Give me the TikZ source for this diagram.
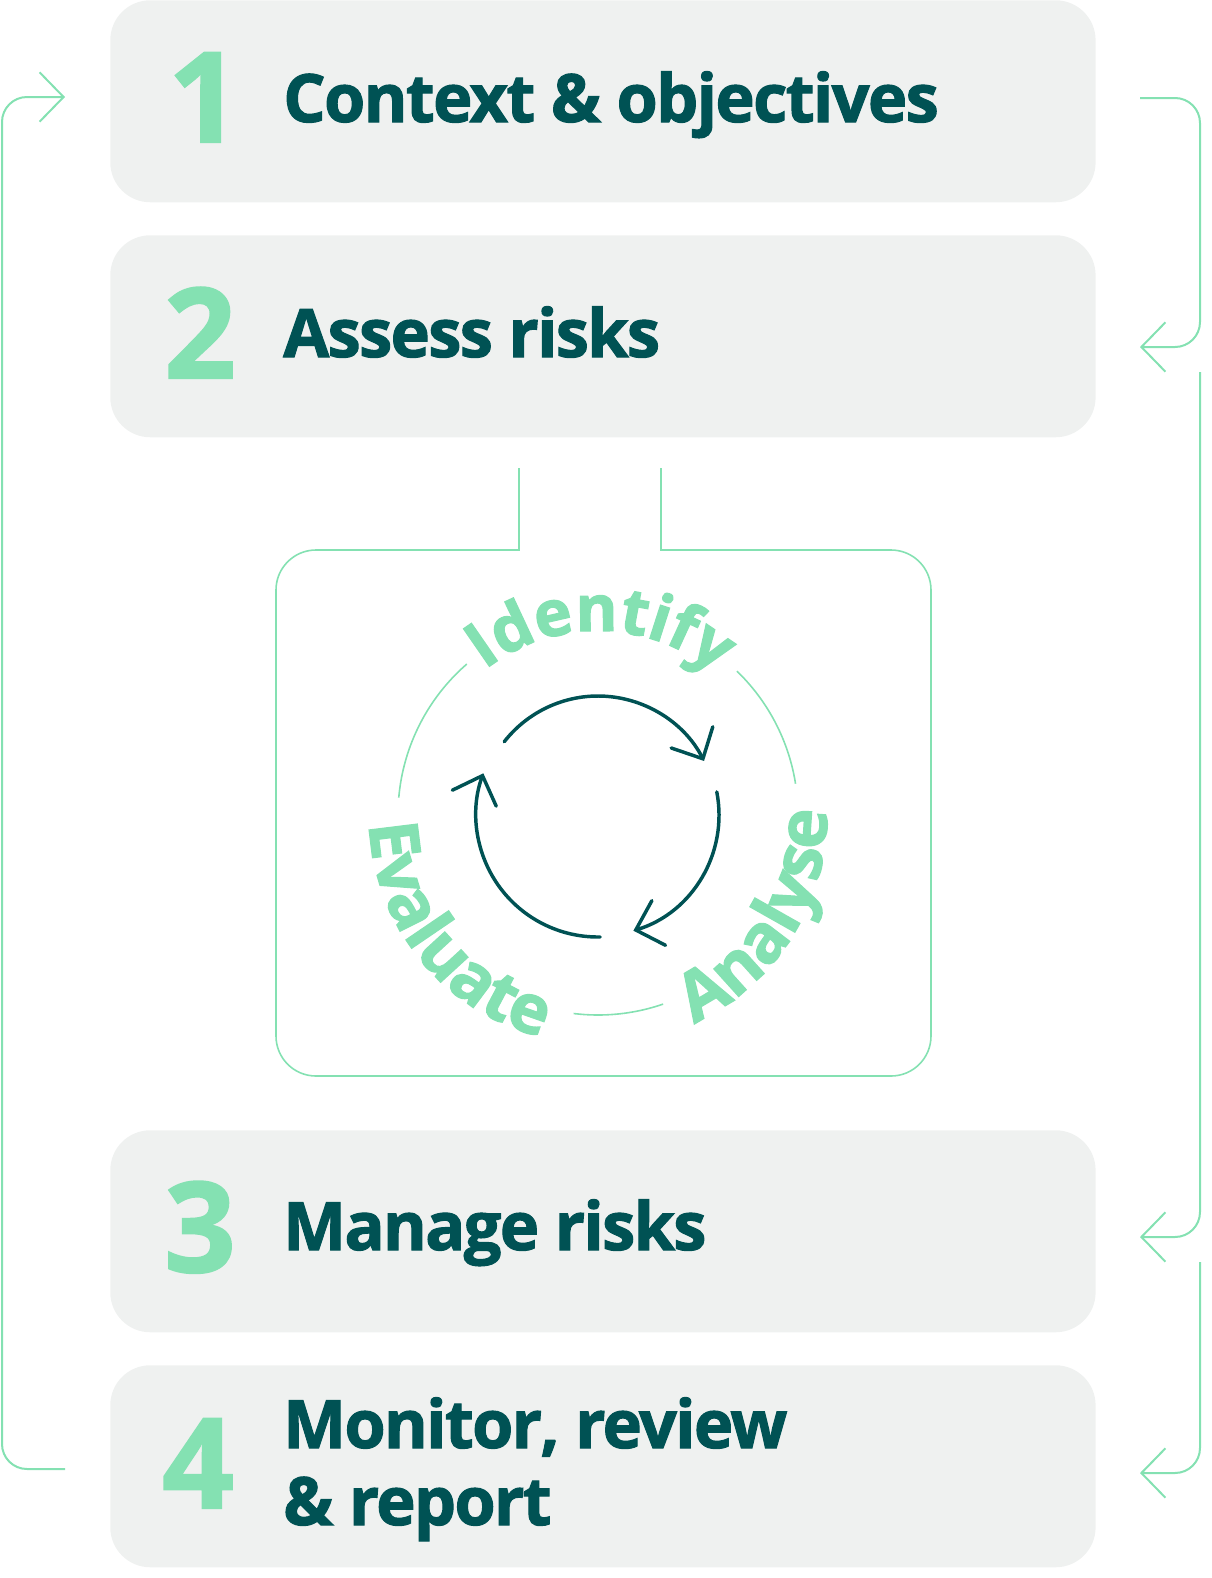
\documentclass[tikz,border=0pt]{standalone}
\usepackage{fontspec}
\setmainfont{Open Sans}[BoldFeatures={FakeBold=1.6, LetterSpace=-2.5}]
\newfontfamily\ringfont{Open Sans}[UprightFont=*, BoldFeatures={FakeBold=1.8}]
\usetikzlibrary{arrows.meta,decorations.text}
\definecolor{mint}{HTML}{84E1B2}
\definecolor{darkteal}{HTML}{005254}
\definecolor{boxgray}{HTML}{EFF1F0}
\newcommand\circfont{\ringfont\fontsize{48}{48}\selectfont\bfseries}
\newcommand\circfontb{\ringfont\fontsize{51}{51}\selectfont\bfseries}
\begin{document}
\begin{tikzpicture}[x=0.75pt,y=0.75pt,
  stepbox/.style={fill=boxgray, draw=none, rounded corners=30pt, anchor=north west,
     minimum width=739pt, minimum height=151.5pt, inner sep=0pt},
  numtext/.style={anchor=base west, inner sep=0pt, text=mint, font=\fontsize{94}{94}\selectfont\bfseries},
  titletext/.style={anchor=base west, inner sep=0pt, text=darkteal, font=\fontsize{50}{50}\selectfont\bfseries},
  conn/.style={draw=mint, line width=1.5pt, rounded corners=18.75pt},
  chev/.style={-{Straight Barb[length=18pt,width=37pt]}},
  frame/.style={draw=mint, line width=1.2pt},
  ring/.style={draw=mint, line width=1.2pt},
  cycarrow/.style={draw=darkteal, line width=2.6pt, line cap=round,
     -{Straight Barb[length=18pt,width=35pt,line cap=round]}},
  circtext/.style={decorate, decoration={text along path, text align=center, text color=mint}}
]
\useasboundingbox (0,0) rectangle (1211,-1578);

% boxes
\node[stepbox] (box1) at (110,0) {};
\node[stepbox] (box2) at (110,-235) {};
\node[stepbox] (box3) at (110,-1130) {};
\node[stepbox] (box4) at (110,-1365) {};

\node[numtext] (n1) at (168,-142) {1};
\node[titletext] (t1) at (283,-122) {Context \& objectives};
\node[numtext] (n2) at (164,-378) {2};
\node[titletext] (t2) at (283,-357) {Assess risks};
\node[numtext] (n3) at (164,-1272) {3};
\node[titletext] (t3) at (283,-1250) {Manage risks};
\node[numtext] (n4) at (162,-1508) {4};
\node[titletext] (t4a) at (283,-1448) {Monitor, review};
\node[titletext] (t4b) at (283,-1525) {\& report};

% right connectors
\coordinate (ra1) at (1140,-98);
\coordinate (ra2) at (1140,-347);
\coordinate (rb1) at (1200,-372);
\coordinate (rb2) at (1140,-1237);
\coordinate (rc1) at (1200,-1262);
\coordinate (rc2) at (1140,-1473);
\draw[conn, chev] (ra1) -- (1200,-98) -- (1200,-347) -- (ra2);
\draw[conn, chev] (rb1) -- (1200,-1237) -- (rb2);
\draw[conn, chev] (rc1) -- (1200,-1473) -- (rc2);

% left loop
\coordinate (la1) at (65,-1469);
\coordinate (la2) at (65,-97);
\draw[conn, chev] (la1) -- (2,-1469) -- (2,-97) -- (la2);

% central frame
\coordinate (fa) at (519,-468);
\coordinate (fb) at (661,-468);
\draw[frame] (fa) |- (420,-550);
\draw[frame, rounded corners=30pt] (420,-550) -- (276,-550) -- (276,-1076) -- (931,-1076) -- (931,-550) -- (760,-550);
\draw[frame] (760,-550) -| (fb);

% ring
\coordinate (C) at (598,-815);
\draw[ring] (C) ++(131:200) arc[start angle=131, end angle=175, radius=200];
\draw[ring] (C) ++(46:200) arc[start angle=46, end angle=9, radius=200];
\draw[ring] (C) ++(-97:200) arc[start angle=-97, end angle=-71, radius=200];

\path[circtext, decoration={text={|\circfont|Identify}}] (C) ++(141:184) arc[start angle=141, end angle=37, radius=184];
\path[circtext, decoration={text={|\circfontb|Evaluate}}] (C) ++(150:229) arc[start angle=150, end angle=288, radius=229];
\path[circtext, decoration={text={|\circfontb|Analyse}}] (C) ++(-101:229) arc[start angle=-101, end angle=37, radius=229];

% inner cycle arrows
\draw[cycarrow] (C) ++(142:119) arc[start angle=142, end angle=27, radius=119];
\draw[cycarrow] (C) ++(11:121) arc[start angle=11, end angle=-73, radius=121];
\draw[cycarrow] (C) ++(-89:122) arc[start angle=-89, end angle=-200, radius=122];
\end{tikzpicture}
\end{document}
